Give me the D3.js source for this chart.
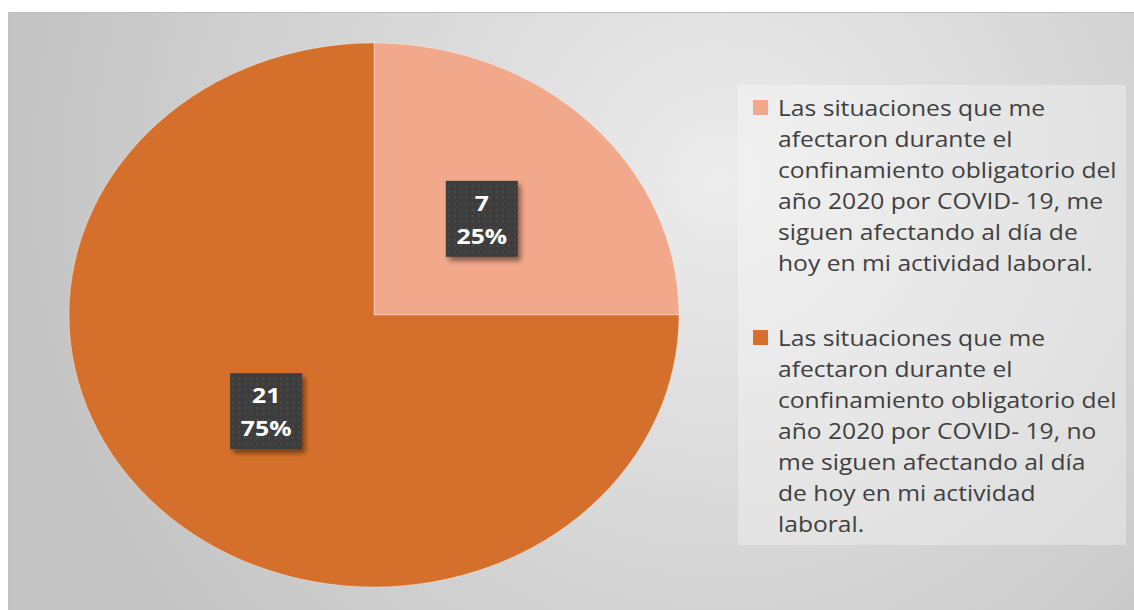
<!DOCTYPE html>
<html lang="es">
<head>
<meta charset="UTF-8" />
<title>Afectación COVID-19</title>
<script src="https://cdn.jsdelivr.net/npm/d3@7"></script>
<style>
  body { margin: 0; background: #fff; }
  svg { display: block; font-family: "Open Sans", "Noto Sans", sans-serif; }
</style>
</head>
<body>
<div id="chart"></div>
<script>
// data
var categories = [
  'Las situaciones que me afectaron durante el confinamiento obligatorio del año 2020 por COVID- 19, me siguen afectando al día de hoy en mi actividad laboral.',
  'Las situaciones que me afectaron durante el confinamiento obligatorio del año 2020 por COVID- 19, no me siguen afectando al día de hoy en mi actividad laboral.'
];
var values = [7, 21];
var percentLabels = ['25%', '75%'];
// legend text wrapped as in the picture
var legendLines = [
  ['Las situaciones que me', 'afectaron durante el', 'confinamiento obligatorio del', 'año 2020 por COVID- 19, me', 'siguen afectando al día de', 'hoy en mi actividad laboral.'],
  ['Las situaciones que me', 'afectaron durante el', 'confinamiento obligatorio del', 'año 2020 por COVID- 19, no', 'me siguen afectando al día', 'de hoy en mi actividad', 'laboral.']
];
var colors = ['#F2A88A', '#D4702B'];

var width = 1134, height = 610;
var cx = 374, cy = 315, rx = 305, ry = 272;
var stretch = 1.12; // the picture is wider than tall, text included

var svg = d3.select('#chart').append('svg')
  .attr('width', width)
  .attr('height', height);

var defs = svg.append('defs');
var bg = defs.append('radialGradient')
  .attr('id', 'bg')
  .attr('gradientUnits', 'userSpaceOnUse')
  .attr('cx', 720).attr('cy', 180).attr('r', 700);
bg.append('stop').attr('offset', '0%').attr('stop-color', '#ececec');
bg.append('stop').attr('offset', '100%').attr('stop-color', '#c4c4c4');

var shadow = defs.append('filter').attr('id', 'shadow')
  .attr('x', '-20%').attr('y', '-20%').attr('width', '150%').attr('height', '150%');
shadow.append('feDropShadow')
  .attr('dx', 3).attr('dy', 4).attr('stdDeviation', 2.5)
  .attr('flood-color', '#000').attr('flood-opacity', 0.45);

// small dotted texture on the data label boxes
var pat = defs.append('pattern').attr('id', 'dots')
  .attr('width', 6).attr('height', 6).attr('patternUnits', 'userSpaceOnUse');
pat.append('rect').attr('width', 6).attr('height', 6).attr('fill', '#3d3d3d');
pat.append('rect').attr('x', 2).attr('y', 2).attr('width', 2).attr('height', 2).attr('fill', '#4a4a4a');

// chart area
svg.append('rect')
  .attr('x', 8).attr('y', 12)
  .attr('width', width - 8).attr('height', height - 12)
  .attr('fill', 'url(#bg)');
svg.append('line')
  .attr('x1', 8).attr('x2', width).attr('y1', 12.5).attr('y2', 12.5)
  .attr('stroke', '#bdbdbd');
svg.append('line')
  .attr('x1', 8.5).attr('x2', 8.5).attr('y1', 12).attr('y2', height)
  .attr('stroke', '#c0c0c0');

// pie (drawn round, then squeezed to the picture's ellipse)
var pie = d3.pie().sort(null).value(function (d) { return d; });
var arc = d3.arc().innerRadius(0).outerRadius(rx);
var arcs = pie(values);

var pieG = svg.append('g')
  .attr('transform', 'translate(' + cx + ',' + cy + ') scale(1,' + (ry / rx) + ')');
pieG.selectAll('path')
  .data(arcs)
  .enter()
  .append('path')
  .attr('d', arc)
  .attr('fill', function (d, i) { return colors[i]; })
  .attr('stroke', 'rgba(255,255,255,0.35)')
  .attr('stroke-width', 1);

// data labels
var boxW = 72, boxH = 76;
var labels = svg.selectAll('.lbl')
  .data(arcs)
  .enter()
  .append('g')
  .attr('class', 'lbl')
  .attr('transform', function (d) {
    var c = arc.centroid(d);
    return 'translate(' + (cx + c[0]) + ',' + (cy + c[1] * ry / rx) + ')';
  });
labels.append('rect')
  .attr('x', -boxW / 2).attr('y', -boxH / 2)
  .attr('width', boxW).attr('height', boxH)
  .attr('fill', 'url(#dots)')
  .attr('filter', 'url(#shadow)');
var lblText = labels.append('g').attr('transform', 'scale(1.18,1)');
lblText.append('text')
  .attr('text-anchor', 'middle')
  .attr('y', -8)
  .attr('fill', '#fff')
  .attr('font-weight', 'bold')
  .attr('font-size', 21)
  .text(function (d) { return d.value; });
lblText.append('text')
  .attr('text-anchor', 'middle')
  .attr('y', 25)
  .attr('fill', '#fff')
  .attr('font-weight', 'bold')
  .attr('font-size', 21)
  .text(function (d, i) { return percentLabels[i]; });

// legend
svg.append('rect')
  .attr('x', 738).attr('y', 85)
  .attr('width', 388).attr('height', 460)
  .attr('fill', '#ffffff').attr('fill-opacity', 0.3);

var lineH = 31;
var starts = [100, 330];
var leg = svg.selectAll('.leg')
  .data(categories)
  .enter()
  .append('g')
  .attr('class', 'leg')
  .attr('transform', function (d, i) { return 'translate(753,' + starts[i] + ')'; });
leg.append('rect')
  .attr('width', 15).attr('height', 15)
  .attr('fill', function (d, i) { return colors[i]; });
leg.append('g')
  .attr('transform', 'translate(25,0) scale(' + stretch + ',1)')
  .append('text')
  .attr('fill', '#404040')
  .attr('font-size', 22)
  .each(function (d, i) {
    d3.select(this).selectAll('tspan')
      .data(legendLines[i])
      .enter()
      .append('tspan')
      .attr('x', 0)
      .attr('y', function (t, j) { return 16 + j * lineH; })
      .text(function (t) { return t; });
  });
</script>
</body>
</html>
